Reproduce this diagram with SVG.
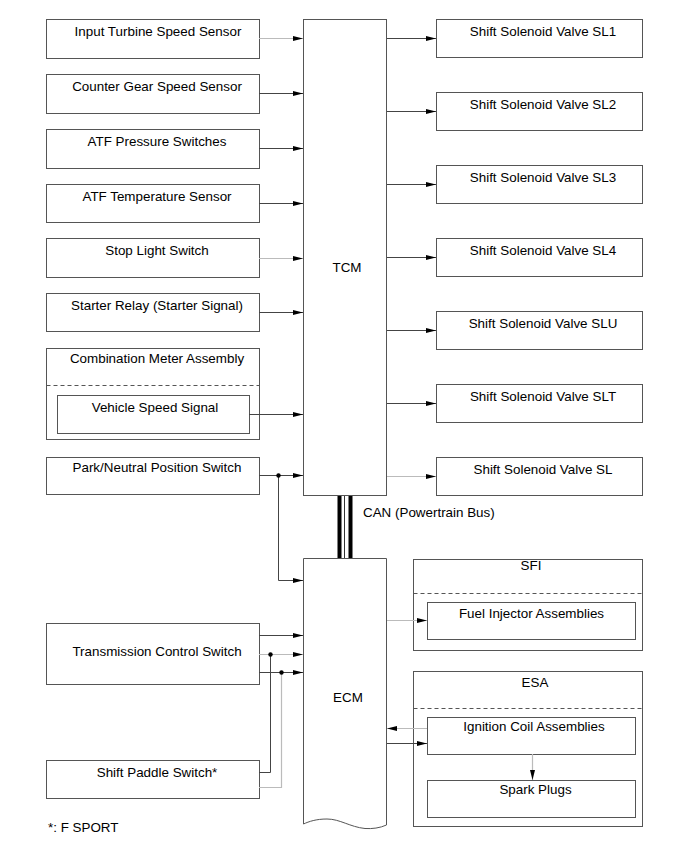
<svg xmlns="http://www.w3.org/2000/svg" width="690" height="853" viewBox="0 0 690 853">
<defs>
<marker id="ah" viewBox="0 0 10 5" refX="10" refY="2.5" markerWidth="10" markerHeight="5" markerUnits="userSpaceOnUse" orient="auto">
<path d="M0,0 L10,2.5 L0,5 Z" fill="#000"/>
</marker>
</defs>
<style>
.box{fill:#fff;stroke:#555;stroke-width:1}
.ln{fill:none;stroke:#444;stroke-width:1}
.lg{fill:none;stroke:#bbb;stroke-width:1.2}
.dash{fill:none;stroke:#555;stroke-width:1;stroke-dasharray:4 3}
text{font-family:"Liberation Sans",Arial,sans-serif;font-size:13.4px;fill:#000;text-anchor:middle}
.l{text-anchor:start}
</style>
<rect width="690" height="853" fill="#fff"/>

<g id="input-turbine"><rect class="box" x="46.5" y="19.5" width="213" height="39"/><text x="158" y="36">Input Turbine Speed Sensor</text></g>
<g id="counter-gear"><rect class="box" x="46.5" y="74.5" width="213" height="39"/><text x="157" y="91">Counter Gear Speed Sensor</text></g>
<g id="atf-pressure"><rect class="box" x="46.5" y="129.5" width="213" height="39"/><text x="157" y="146">ATF Pressure Switches</text></g>
<g id="atf-temp"><rect class="box" x="46.5" y="184.5" width="213" height="38"/><text x="157" y="201">ATF Temperature Sensor</text></g>
<g id="stop-light"><rect class="box" x="46.5" y="238.5" width="213" height="39"/><text x="157" y="255">Stop Light Switch</text></g>
<g id="starter-relay"><rect class="box" x="46.5" y="293.5" width="213" height="38"/><text x="157" y="310">Starter Relay (Starter Signal)</text></g>
<g id="combination-meter">
<rect class="box" x="46.5" y="348.5" width="213" height="91"/>
<line class="dash" x1="46.5" y1="385.5" x2="259.5" y2="385.5"/>
<text x="157" y="363">Combination Meter Assembly</text>
<g id="vehicle-speed"><rect class="box" x="57.5" y="395.5" width="192" height="38"/><text x="155" y="412">Vehicle Speed Signal</text></g>
</g>
<g id="park-neutral"><rect class="box" x="46.5" y="457.5" width="213" height="37"/><text x="157" y="472">Park/Neutral Position Switch</text></g>
<g id="trans-control"><rect class="box" x="46.5" y="623.5" width="213" height="61"/><text x="157" y="656">Transmission Control Switch</text></g>
<g id="shift-paddle"><rect class="box" x="46.5" y="760.5" width="213" height="38"/><text x="157" y="777">Shift Paddle Switch*</text></g>

<g id="tcm"><rect class="box" x="303.5" y="19.5" width="83" height="476"/><text x="347" y="272">TCM</text></g>
<g id="ecm"><path class="box" d="M303.5,558.5 H386.5 V825 C380,828 372,829 365,828.5 C350,827 340,819 327,819 C316,819 309,821.5 303.5,824 Z"/><text x="348" y="702">ECM</text></g>
<text class="l" x="363" y="517">CAN (Powertrain Bus)</text>

<g id="sl1"><rect class="box" x="436.5" y="19.5" width="206" height="38"/><text x="543" y="36">Shift Solenoid Valve SL1</text></g>
<g id="sl2"><rect class="box" x="436.5" y="92.5" width="206" height="38"/><text x="543" y="109">Shift Solenoid Valve SL2</text></g>
<g id="sl3"><rect class="box" x="436.5" y="165.5" width="206" height="38"/><text x="543" y="182">Shift Solenoid Valve SL3</text></g>
<g id="sl4"><rect class="box" x="436.5" y="238.5" width="206" height="38"/><text x="543" y="255">Shift Solenoid Valve SL4</text></g>
<g id="slu"><rect class="box" x="436.5" y="311.5" width="206" height="38"/><text x="543" y="328">Shift Solenoid Valve SLU</text></g>
<g id="slt"><rect class="box" x="436.5" y="384.5" width="206" height="38"/><text x="543" y="401">Shift Solenoid Valve SLT</text></g>
<g id="sl"><rect class="box" x="436.5" y="457.5" width="206" height="38"/><text x="543" y="474">Shift Solenoid Valve SL</text></g>

<g id="sfi">
<rect class="box" x="413.5" y="559.5" width="229" height="91"/>
<line class="dash" x1="413.5" y1="593.5" x2="642.5" y2="593.5"/>
<text x="531" y="570">SFI</text>
<g id="fuel-injector"><rect class="box" x="427.5" y="602.5" width="208" height="37"/><text x="531.5" y="618">Fuel Injector Assemblies</text></g>
</g>
<g id="esa">
<rect class="box" x="413.5" y="671.5" width="229" height="155"/>
<line class="dash" x1="413.5" y1="708.5" x2="642.5" y2="708.5"/>
<text x="535" y="687">ESA</text>
<g id="ignition-coil"><rect class="box" x="427.5" y="717.5" width="208" height="37"/><text x="534" y="731">Ignition Coil Assemblies</text></g>
<g id="spark-plugs"><rect class="box" x="427.5" y="780.5" width="208" height="37"/><text x="535.5" y="794">Spark Plugs</text></g>
</g>
<text class="l" x="48" y="832">*: F SPORT</text>

<g id="connectors">
<line class="lg" x1="259" y1="38.5" x2="303" y2="38.5" marker-end="url(#ah)"/>
<line class="ln" x1="259" y1="93.5" x2="303" y2="93.5" marker-end="url(#ah)"/>
<line class="ln" x1="259" y1="148.5" x2="303" y2="148.5" marker-end="url(#ah)"/>
<line class="ln" x1="259" y1="203.5" x2="303" y2="203.5" marker-end="url(#ah)"/>
<line class="lg" x1="259" y1="258.5" x2="303" y2="258.5" marker-end="url(#ah)"/>
<line class="ln" x1="259" y1="312.5" x2="303" y2="312.5" marker-end="url(#ah)"/>
<line class="ln" x1="249" y1="414.5" x2="303" y2="414.5" marker-end="url(#ah)"/>
<line class="ln" x1="259" y1="475.5" x2="303" y2="475.5" marker-end="url(#ah)"/>
<polyline class="ln" points="278.5,475.5 278.5,580.5 303,580.5" marker-end="url(#ah)"/>
<circle cx="278.5" cy="475.5" r="2.2" fill="#000"/>

<line class="ln" x1="387" y1="38.5" x2="436" y2="38.5" marker-end="url(#ah)"/>
<line class="ln" x1="387" y1="111.5" x2="436" y2="111.5" marker-end="url(#ah)"/>
<line class="ln" x1="387" y1="184.5" x2="436" y2="184.5" marker-end="url(#ah)"/>
<line class="ln" x1="387" y1="257.5" x2="436" y2="257.5" marker-end="url(#ah)"/>
<line class="ln" x1="387" y1="330.5" x2="436" y2="330.5" marker-end="url(#ah)"/>
<line class="ln" x1="387" y1="403.5" x2="436" y2="403.5" marker-end="url(#ah)"/>
<line class="lg" x1="387" y1="476.5" x2="436" y2="476.5" marker-end="url(#ah)"/>

<g id="can">
<rect x="337.5" y="496" width="4" height="62" fill="#000"/>
<line x1="344.5" y1="496" x2="344.5" y2="558" stroke="#333" stroke-width="1"/>
<rect x="348.5" y="496" width="4" height="62" fill="#000"/>
</g>

<line class="ln" x1="259" y1="635.5" x2="303" y2="635.5" marker-end="url(#ah)"/>
<line class="lg" x1="259" y1="654.5" x2="303" y2="654.5" marker-end="url(#ah)"/>
<line class="ln" x1="259" y1="672.5" x2="303" y2="672.5" marker-end="url(#ah)"/>
<polyline class="ln" points="259,772.5 270.5,772.5 270.5,654.5"/>
<polyline class="lg" points="259,787.5 281.5,787.5 281.5,672.5"/>
<circle cx="270.5" cy="654.5" r="2.2" fill="#000"/>
<circle cx="281.5" cy="672.5" r="2.2" fill="#000"/>

<line class="lg" x1="387" y1="620.5" x2="427" y2="620.5" marker-end="url(#ah)"/>
<line class="lg" x1="427" y1="728.5" x2="387" y2="728.5" marker-end="url(#ah)"/>
<line class="ln" x1="387" y1="743.5" x2="427" y2="743.5" marker-end="url(#ah)"/>
<line class="lg" x1="532.5" y1="754" x2="532.5" y2="780" marker-end="url(#ah)"/>
</g>
</svg>
